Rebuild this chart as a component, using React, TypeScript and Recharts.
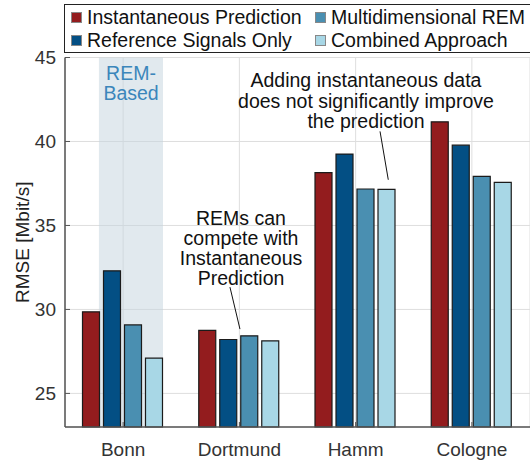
import React from 'react';
import {
  BarChart,
  Bar,
  XAxis,
  YAxis,
  CartesianGrid,
  ReferenceArea,
  ReferenceLine,
  ReferenceDot,
} from 'recharts';

const cities = ['Bonn', 'Dortmund', 'Hamm', 'Cologne'];
const cityPos = [0.5, 1.5, 2.5, 3.5];
const instantaneous = [29.86, 28.75, 38.15, 41.17];
const referenceOnly = [32.3, 28.21, 39.25, 39.78];
const multiREM = [29.08, 28.43, 37.17, 37.92];
const combined = [27.1, 28.13, 37.15, 37.56];
const yTicks = [25, 30, 35, 40, 45];

const FONT = '"Liberation Sans", Arial, Helvetica, sans-serif';

// note: don't use "ref" as a data key, recharts spreads entries onto the rects
const series = [
  { key: 'inst', name: 'Instantaneous Prediction', color: '#931c1e', values: instantaneous },
  { key: 'refOnly', name: 'Reference Signals Only', color: '#034f84', values: referenceOnly },
  { key: 'multi', name: 'Multidimensional REM', color: '#4a8fb1', values: multiREM },
  { key: 'comb', name: 'Combined Approach', color: '#a8d7e6', values: combined },
];

// legend is laid out in two columns, row by row
const legendRows = [
  ['inst', 'multi'],
  ['refOnly', 'comb'],
];

const data = cities.map((city, i) => {
  const row: any = { city, pos: cityPos[i] };
  series.forEach(s => {
    row[s.key] = s.values[i];
  });
  return row;
});

const multiLine = (lines: string[], color = '#111') => (props: any) => {
  const { viewBox } = props;
  const cx = viewBox.x + (viewBox.width || 0) / 2;
  const cy = viewBox.y + (viewBox.height || 0) / 2;
  return (
    <text x={cx} y={cy} textAnchor="middle" fontSize={19.5} fill={color} fontFamily={FONT}>
      {lines.map((l, i) => (
        <tspan key={i} x={cx} dy={i === 0 ? '0.35em' : 20.3}>
          {l}
        </tspan>
      ))}
    </text>
  );
};

const axisTitle = (props: any) => {
  const { viewBox } = props;
  const x = 22;
  const y = viewBox.y + viewBox.height / 2;
  return (
    <text
      x={x}
      y={y}
      transform={`rotate(-90, ${x}, ${y})`}
      textAnchor="middle"
      dominantBaseline="central"
      fontSize={19}
      fill="#222"
      fontFamily={FONT}
    >
      RMSE [Mbit/s]
    </text>
  );
};

const LegendBox = () => (
  <div
    style={{
      position: 'absolute',
      left: 64,
      top: 4,
      width: 480,
      height: 47,
      border: '1.3px solid #222',
      background: '#fff',
      fontFamily: FONT,
      fontSize: 19.5,
      color: '#111',
      zIndex: 2,
    }}
  >
    {legendRows.map((row, r) =>
      row.map((key, c) => {
        const s = series.find(x => x.key === key)!;
        return (
          <div
            key={key}
            style={{
              position: 'absolute',
              left: c === 0 ? 6 : 250,
              top: r === 0 ? 1 : 24,
              height: 22,
              display: 'flex',
              alignItems: 'center',
              whiteSpace: 'nowrap',
            }}
          >
            <span
              style={{
                width: 9,
                height: 9,
                background: s.color,
                border: '0.5px solid #888',
                marginRight: 5,
                display: 'inline-block',
              }}
            />
            {s.name}
          </div>
        );
      })
    )}
  </div>
);

export default function App() {
  return (
    <div style={{ position: 'absolute', left: 0, top: 0, width: 530, height: 464, background: '#fff' }}>
      <LegendBox />
      <BarChart
        width={530}
        height={464}
        data={data}
        margin={{ top: 57.5, right: 0, bottom: 0, left: 0 }}
        barCategoryGap={17.5}
        barGap={4}
      >
        <CartesianGrid stroke="#dedede" strokeWidth={1} />
        <XAxis
          dataKey="city"
          height={37}
          axisLine={{ stroke: '#555', strokeWidth: 1.5 }}
          tickLine={{ stroke: '#555' }}
          tickSize={-5}
          tickMargin={21}
          tick={{ fontSize: 19, fill: '#333', fontFamily: FONT }}
        />
        <XAxis
          xAxisId="top"
          dataKey="city"
          orientation="top"
          height={0}
          mirror
          tick={false}
          tickSize={5}
          axisLine={{ stroke: '#555', strokeWidth: 1.5 }}
          tickLine={{ stroke: '#555' }}
        />
        <XAxis xAxisId="n" dataKey="pos" type="number" domain={[0, 4]} allowDataOverflow hide />
        <YAxis
          domain={[23, 45]}
          ticks={yTicks}
          width={65}
          axisLine={{ stroke: '#555', strokeWidth: 1.5 }}
          tickLine={{ stroke: '#555' }}
          tickSize={-5}
          tickMargin={14}
          tick={{ fontSize: 19, fill: '#333', fontFamily: FONT }}
          label={{ content: axisTitle }}
        />
        <YAxis
          yAxisId="r"
          orientation="right"
          domain={[23, 45]}
          ticks={yTicks}
          width={0}
          mirror
          tick={false}
          tickSize={5}
          axisLine={{ stroke: '#555', strokeWidth: 1.5 }}
          tickLine={{ stroke: '#555' }}
        />
        <ReferenceArea
          xAxisId="n"
          x1={0.292}
          x2={0.843}
          y1={23}
          y2={45}
          fill="#c3d3dd"
          fillOpacity={0.5}
          stroke="none"
        />
        {series.map(s => (
          <Bar
            key={s.key}
            dataKey={s.key}
            name={s.name}
            fill={s.color}
            stroke="#1b1b1b"
            strokeWidth={1.2}
            isAnimationActive={false}
          />
        ))}
        <ReferenceLine
          xAxisId="n"
          segment={[{ x: 1.419, y: 31.33 }, { x: 1.505, y: 28.83 }]}
          stroke="#111"
          strokeWidth={1}
        />
        <ReferenceLine
          xAxisId="n"
          segment={[{ x: 2.71, y: 40.6 }, { x: 2.781, y: 37.72 }]}
          stroke="#111"
          strokeWidth={1}
        />
        <ReferenceDot
          xAxisId="n"
          x={0.568}
          y={44.07}
          r={0}
          fill="none"
          stroke="none"
          label={{ content: multiLine(['REM-', 'Based'], '#3b86bb') }}
        />
        <ReferenceDot
          xAxisId="n"
          x={1.514}
          y={35.46}
          r={0}
          fill="none"
          stroke="none"
          label={{ content: multiLine(['REMs can', 'compete with', 'Instantaneous', 'Prediction']) }}
        />
        <ReferenceDot
          xAxisId="n"
          x={2.589}
          y={43.63}
          r={0}
          fill="none"
          stroke="none"
          label={{
            content: multiLine(['Adding instantaneous data', 'does not significantly improve', 'the prediction']),
          }}
        />
      </BarChart>
    </div>
  );
}
